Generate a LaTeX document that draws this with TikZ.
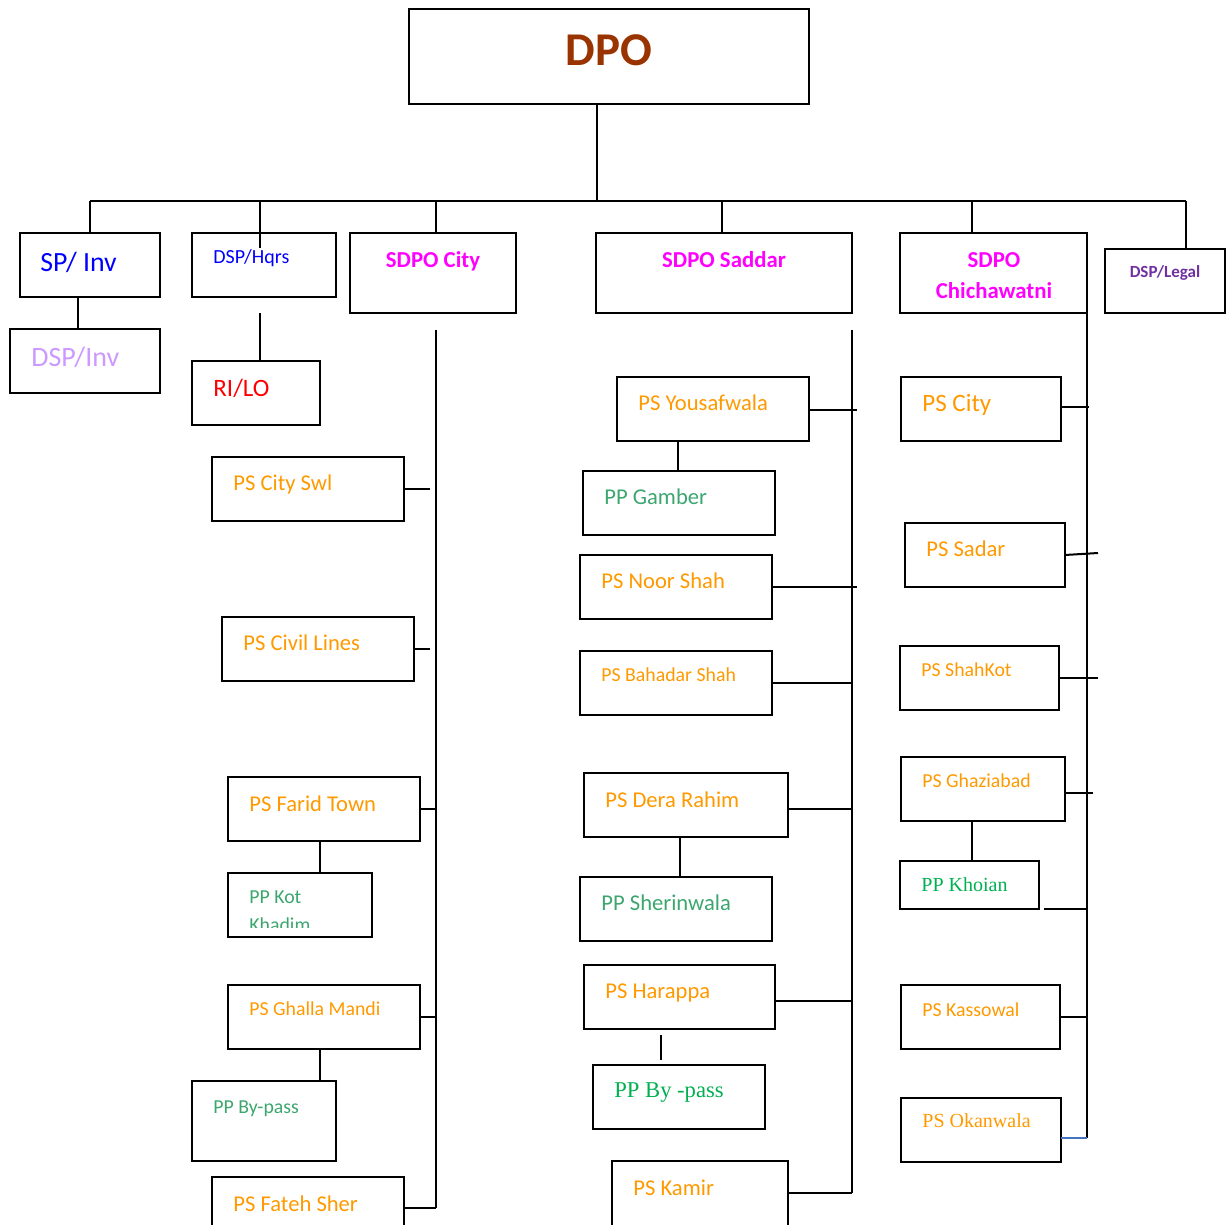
\documentclass[tikz,border=0pt]{standalone}
\usepackage{fontspec}
\setmainfont{Carlito}
\newfontfamily\timesfont{Liberation Serif}
\usetikzlibrary{positioning}

\definecolor{dpobrown}{HTML}{993300}
\definecolor{psorange}{HTML}{FF9900}
\definecolor{ppgreen}{HTML}{3CA66E}
\definecolor{ppbright}{HTML}{00B050}
\definecolor{lilac}{HTML}{CC99FF}
\definecolor{legalpurple}{HTML}{7030A0}
\definecolor{okablue}{HTML}{4472C4}
\definecolor{sdpopink}{HTML}{FF00FF}

\tikzset{
  box/.style={draw, line width=1pt, inner sep=0pt, outer sep=0pt},
  wire/.style={line width=1pt},
  ps/.style={text=psorange, font=\fontsize{11.3}{13}\selectfont, anchor=base west, inner sep=0pt},
  pssmall/.style={ps, font=\fontsize{9.9}{11}\selectfont},
  pp/.style={ps, text=ppgreen},
  ppsmall/.style={pp, font=\fontsize{9.9}{11}\selectfont},
  pptimes/.style={ps, text=ppbright, font=\timesfont\fontsize{11.3}{13}\selectfont},
  sdpo/.style={text=sdpopink, font=\bfseries\fontsize{11.4}{15.5}\selectfont, anchor=base, inner sep=0pt}
}

% box from its corners, in pixels of the reference
\newcommand{\ubox}[5]{%
  \node[box, minimum width={(#4-#2)*0.5pt}, minimum height={(#5-#3)*0.5pt}]
    (#1) at ({(#2+#4)/2},{(#3+#5)/2}) {};}

\begin{document}
\begin{tikzpicture}[x=0.5pt, y=-0.5pt]
  \useasboundingbox (0,0) rectangle (1227,1225);

  % top
  \ubox{dpo}{409}{9}{809}{104}
  \node[text=dpobrown, font=\bfseries\fontsize{23.5}{28}\selectfont, inner sep=0pt] (dpo-t) at (609,50) {DPO};
  \coordinate (busL) at (90,201);
  \coordinate (busR) at (1186,201);
  \draw[wire] ([xshift=-6pt]dpo.south) -- ([xshift=-6pt]dpo.south |- busL);
  \draw[wire] (busL) -- (busR);

  % second row
  \ubox{spinv}{20}{233}{160}{297}
  \ubox{dspinv}{10}{329}{160}{393}
  \ubox{hqrs}{192}{233}{336}{297}
  \ubox{rilo}{192}{361}{320}{425}
  \ubox{city}{350}{233}{516}{313}
  \ubox{saddar}{596}{233}{852}{313}
  \ubox{chich}{900}{233}{1087}{313}
  \ubox{legal}{1105}{249}{1225}{313}

  \node[text=blue, font=\fontsize{13.9}{15}\selectfont, anchor=base west, inner sep=0pt] (spinv-t) at (40,272) {SP/ Inv};
  \node[text=lilac, font=\fontsize{14}{15}\selectfont, anchor=base west, inner sep=0pt] (dspinv-t) at (31,367) {DSP/Inv};
  \node[text=blue, font=\fontsize{10}{11}\selectfont, anchor=base west, inner sep=0pt] (hqrs-t) at (213,264) {DSP/Hqrs};
  \node[text=red, font=\fontsize{12.5}{15}\selectfont, anchor=base west, inner sep=0pt] (rilo-t) at (213,396) {RI/LO};
  \node[sdpo] (city-t) at (433,268) {SDPO City};
  \node[sdpo] (saddar-t) at (724,268) {SDPO Saddar};
  \node[sdpo] (chich-t) at (994,268) {SDPO};
  \node[sdpo] (chich-t2) at (994,299) {Chichawatni};
  \node[text=legalpurple, font=\bfseries\fontsize{8.5}{9}\selectfont, anchor=base, inner sep=0pt] (legal-t) at (1165,278) {DSP/Legal};

  \draw[wire] (spinv.north) -- (spinv.north |- busL);
  \coordinate (hq-in) at (260,248);
  \draw[wire] (hq-in) -- (hq-in |- busL);
  \draw[wire] ([xshift=1.5pt]city.north) -- ([xshift=1.5pt]city.north |- busL);
  \draw[wire] ([xshift=-1pt]saddar.north) -- ([xshift=-1pt]saddar.north |- busL);
  \draw[wire] ([xshift=-10.75pt]chich.north) -- ([xshift=-10.75pt]chich.north |- busL);
  \draw[wire] ([xshift=10.5pt]legal.north) -- ([xshift=10.5pt]legal.north |- busR);
  \draw[wire] ([xshift=-6pt]spinv.south) -- ([xshift=-6pt]spinv.south |- dspinv.north);
  \coordinate (hq-out) at (260,313);
  \draw[wire] (hq-out) -- (hq-out |- rilo.north);

  % SDPO City column
  \ubox{swl}{212}{457}{404}{521}
  \ubox{civil}{222}{617}{414}{681}
  \ubox{farid}{228}{777}{420}{841}
  \ubox{kot}{228}{873}{372}{937}
  \ubox{ghalla}{228}{985}{420}{1049}
  \ubox{bypass}{192}{1081}{336}{1161}
  \ubox{fateh}{212}{1177}{404}{1227}

  \node[ps] (swl-t) at (233,490) {PS City Swl};
  \node[ps] (civil-t) at (243,650) {PS Civil Lines};
  \node[ps] (farid-t) at (249,811) {PS Farid Town};
  \node[ppsmall] (kot-t) at (249,903) {PP Kot};
  \begin{scope}
    \clip (228,873) rectangle (372,927);
    \node[ppsmall] (kot-t2) at (249,931) {Khadim};
  \end{scope}
  \node[pssmall] (ghalla-t) at (249,1015) {PS Ghalla Mandi};
  \node[ppsmall] (bypass-t) at (213,1113) {PP By-pass};
  \node[ps] (fateh-t) at (233,1211) {PS Fateh Sher};

  \coordinate (cityT) at (436,330);
  \coordinate (cityB) at (436,1208);
  \draw[wire] (cityT) -- (cityB);
  \draw[wire] (swl.east) -- ([xshift=-3pt]swl.east -| cityT);
  \draw[wire] (civil.east) -- ([xshift=-3pt]civil.east -| cityT);
  \draw[wire] (farid.east) -- (farid.east -| cityT);
  \draw[wire] (ghalla.east) -- (ghalla.east -| cityT);
  \draw[wire] (fateh.east |- cityB) -- (cityB);
  \draw[wire] (kot.north -| 320,0) -- (farid.south -| 320,0);
  \draw[wire] (bypass.north -| 320,0) -- (ghalla.south -| 320,0);

  % SDPO Saddar column
  \ubox{yous}{617}{377}{809}{441}
  \ubox{gamber}{583}{471}{775}{535}
  \ubox{noor}{580}{555}{772}{619}
  \ubox{bahadar}{580}{651}{772}{715}
  \ubox{dera}{584}{773}{788}{837}
  \ubox{sherin}{580}{877}{772}{941}
  \ubox{harappa}{584}{965}{775}{1029}
  \ubox{bypass2}{593}{1065}{765}{1129}
  \ubox{kamir}{612}{1161}{788}{1227}

  \node[ps] (yous-t) at (638,410) {PS Yousafwala};
  \node[pp] (gamber-t) at (604,504) {PP Gamber};
  \node[ps] (noor-t) at (601,588) {PS Noor Shah};
  \node[pssmall] (bahadar-t) at (601,681) {PS Bahadar Shah};
  \node[ps] (dera-t) at (605,807) {PS Dera Rahim};
  \node[pp] (sherin-t) at (601,910) {PP Sherinwala};
  \node[ps] (harappa-t) at (605,998) {PS Harappa};
  \node[pptimes] (bypass2-t) at (614,1097) {PP By -pass};
  \node[ps] (kamir-t) at (633,1195) {PS Kamir};

  \coordinate (sadT) at (852,330);
  \coordinate (sadB) at (852,1193);
  \draw[wire] (sadT) -- (sadB);
  \draw[wire] ([yshift=-0.5pt]yous.east) -- ([yshift=-0.5pt,xshift=2.5pt]yous.east -| sadT);
  \draw[wire] (noor.east) -- ([xshift=2.5pt]noor.east -| sadT);
  \draw[wire] (bahadar.east) -- (bahadar.east -| sadT);
  \draw[wire] ([yshift=-2pt]dera.east) -- ([yshift=-2pt]dera.east -| sadT);
  \draw[wire] ([yshift=-2pt]harappa.east) -- ([yshift=-2pt]harappa.east -| sadT);
  \draw[wire] (kamir.east |- sadB) -- (sadB);
  \draw[wire] (gamber.north -| 678,0) -- (yous.south -| 678,0);
  \draw[wire] (sherin.north -| 680,0) -- (dera.south -| 680,0);
  \coordinate (harappa-out) at (661,1035);
  \draw[wire] (harappa-out) -- (harappa-out |- 0,1060);

  % SDPO Chichawatni column
  \ubox{pscity}{901}{377}{1061}{441}
  \ubox{sadar}{905}{523}{1065}{587}
  \ubox{shahkot}{900}{646}{1059}{710}
  \ubox{ghazi}{901}{757}{1065}{821}
  \ubox{khoian}{900}{861}{1039}{909}
  \ubox{kasso}{901}{985}{1060}{1049}
  \ubox{okan}{901}{1098}{1061}{1162}

  \node[ps, font=\fontsize{12.5}{14}\selectfont] (pscity-t) at (922,412) {PS City};
  \node[ps] (sadar-t) at (926,556) {PS Sadar};
  \node[pssmall] (shahkot-t) at (921,676) {PS ShahKot};
  \node[pssmall] (ghazi-t) at (922,787) {PS Ghaziabad};
  \node[pptimes, font=\timesfont\fontsize{10}{12}\selectfont] (khoian-t) at (921,891) {PP Khoian};
  \node[pssmall] (kasso-t) at (922,1016) {PS Kassowal};
  \node[ps, font=\timesfont\fontsize{10}{12}\selectfont] (okan-t) at (922,1127) {PS Okanwala};

  \coordinate (chichB) at (1087,1138);
  \draw[wire] (chich.south east) -- (chichB);
  \draw[wire] ([yshift=1pt]pscity.east) -- ([yshift=1pt,xshift=1pt]pscity.east -| chichB);
  \draw[wire] (sadar.east) -- ([yshift=1pt,xshift=5.5pt]sadar.east -| chichB);
  \draw[wire] (shahkot.east) -- ([xshift=5.5pt]shahkot.east -| chichB);
  \draw[wire] (ghazi.east |- 0,793) -- ([xshift=3pt]chichB |- 0,793);
  \draw[wire] ([xshift=2.5pt]khoian.south east) -- (khoian.south east -| chichB);
  \draw[wire] (kasso.east) -- (kasso.east -| chichB);
  \draw[okablue, line width=0.8pt] (okan.east |- chichB) -- (chichB);
  \draw[wire] (khoian.north -| 972,0) -- (ghazi.south -| 972,0);
\end{tikzpicture}
\end{document}
